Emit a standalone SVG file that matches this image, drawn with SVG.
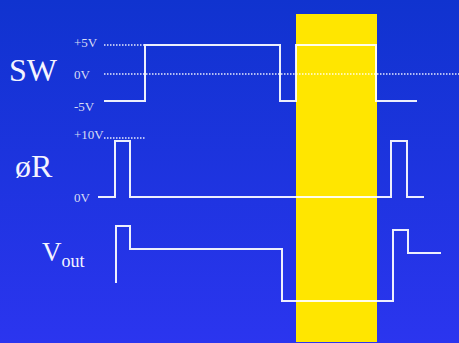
<svg xmlns="http://www.w3.org/2000/svg" width="459" height="343" viewBox="0 0 459 343">
<defs>
<linearGradient id="bg" x1="0" y1="0" x2="0" y2="1">
<stop offset="0" stop-color="#1033cf"/>
<stop offset="1" stop-color="#2b35ef"/>
</linearGradient>
</defs>
<style>
.wave{fill:none;stroke:#ffffff;stroke-width:2;stroke-opacity:0.92;stroke-linejoin:miter}
.dot{fill:none;stroke:#ffffff;stroke-width:1.5;stroke-dasharray:1.5 1.5;stroke-opacity:0.9}
.big{font-family:"Liberation Serif","Times New Roman",serif;fill:#f4f4ff}
.small{font-family:"Liberation Serif","Times New Roman",serif;font-size:13px;fill:#d8dcf4}
</style>
<rect x="0" y="0" width="459" height="343" fill="url(#bg)"/>
<rect id="highlight" x="296" y="14" width="81" height="328" fill="#ffe600"/>
<g id="connectors">
<path class="dot" d="M104,45H145"/>
<path class="dot" d="M104,74H459"/>
<path class="dot" d="M104,138H145"/>
<path class="wave" d="M104,101H145V45H280V101H296V45H376V101H417"/>
<path class="wave" d="M98,197H115V141H130V197H391V141H407V197H424"/>
<path class="wave" d="M116,283V226H130V249H282V301H393V230H408V253H441"/>
</g>
<g id="sw">
<text class="big" x="9" y="81" font-size="32">SW</text>
<text class="small" x="74" y="47">+5V</text>
<text class="small" x="74" y="79">0V</text>
<text class="small" x="74" y="111">-5V</text>
</g>
<g id="phiR">
<text class="big" x="15" y="177" font-size="32">øR</text>
<text class="small" x="74" y="139">+10V</text>
<text class="small" x="74" y="202">0V</text>
</g>
<g id="vout">
<text class="big" x="42" y="261" font-size="27">V<tspan font-size="18" dy="6">out</tspan></text>
</g>
</svg>
